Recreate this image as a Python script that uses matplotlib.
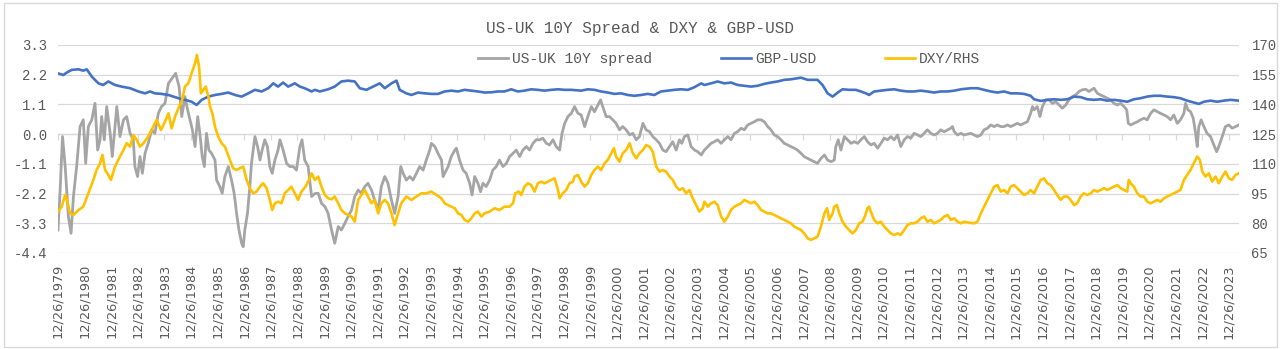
import matplotlib
matplotlib.use("Agg")
import matplotlib.pyplot as plt
from matplotlib.patches import Rectangle

# US-UK 10Y spread (left axis) as (year, value)
spread = [
    (1979.98, -3.55), (1980.06, -2.07), (1980.15, -0.09), (1980.25, -1.20), (1980.37, -3.05), (1980.47, -3.67),
    (1980.56, -2.31), (1980.68, -1.20), (1980.81, 0.28), (1980.93, 0.53),
    (1981.02, -1.08), (1981.12, 0.28), (1981.25, 0.53), (1981.37, 1.14), (1981.47, -0.59), (1981.56, -0.21),
    (1981.62, 0.65), (1981.72, -0.21), (1981.81, 1.02), (1981.94, 0.03),
    (1982.02, -0.83), (1982.19, 1.02), (1982.31, -0.09), (1982.44, 0.53), (1982.56, 0.65), (1982.69, 0.03),
    (1982.81, -0.21), (1982.87, -1.20), (1982.97, -1.57),
    (1983.06, -0.83), (1983.15, -1.45), (1983.25, -0.71), (1983.37, -0.34), (1983.50, 0.16), (1983.62, 0.03),
    (1983.75, 0.77), (1983.87, 1.02),
    (1984.00, 1.14), (1984.13, 1.88), (1984.31, 2.13), (1984.40, 2.25), (1984.53, 1.76), (1984.63, 0.65),
    (1984.75, 1.39), (1984.85, 0.90), (1984.94, 0.53),
    (1985.03, 0.16), (1985.13, -0.46), (1985.23, 0.65), (1985.31, 0.03), (1985.40, -0.83), (1985.48, -1.20),
    (1985.56, 0.03), (1985.65, -0.59), (1985.75, -0.71), (1985.88, -0.96), (1985.94, -1.70),
    (1986.06, -1.94), (1986.15, -2.19), (1986.25, -1.57), (1986.38, -1.20), (1986.50, -1.70), (1986.60, -2.19),
    (1986.69, -2.93), (1986.78, -3.55), (1986.88, -4.04), (1986.94, -4.17),
    (1987.00, -3.55), (1987.10, -2.93), (1987.19, -1.94), (1987.25, -1.08), (1987.38, -0.09), (1987.48, -0.46),
    (1987.57, -0.96), (1987.65, -0.59), (1987.75, -0.21), (1987.85, -0.46), (1987.94, -1.20),
    (1988.03, -1.45), (1988.13, -0.96), (1988.25, -0.59), (1988.32, -0.21), (1988.44, -0.59), (1988.57, -1.08),
    (1988.69, -1.20), (1988.82, -1.20), (1988.94, -1.33),
    (1989.07, -0.46), (1989.15, -0.21), (1989.25, -0.96), (1989.38, -1.20), (1989.51, -2.31), (1989.63, -2.20),
    (1989.76, -2.19), (1989.88, -2.56),
    (1990.01, -2.68), (1990.13, -2.93), (1990.26, -3.55), (1990.38, -4.04), (1990.51, -3.42), (1990.63, -3.55),
    (1990.76, -3.30), (1990.88, -3.05),
    (1991.01, -2.81), (1991.13, -2.31), (1991.26, -2.07), (1991.38, -2.19), (1991.51, -1.94), (1991.63, -1.82),
    (1991.76, -2.07), (1991.88, -2.44),
    (1992.01, -2.81), (1992.13, -1.94), (1992.26, -1.57), (1992.38, -1.82), (1992.51, -2.44), (1992.63, -2.93),
    (1992.76, -2.31), (1992.86, -1.20), (1992.95, -1.45),
    (1993.07, -1.70), (1993.20, -1.57), (1993.32, -1.70), (1993.45, -1.45), (1993.57, -1.20), (1993.70, -1.33),
    (1993.82, -0.96), (1993.95, -0.59),
    (1994.01, -0.34), (1994.14, -0.46), (1994.26, -0.71), (1994.39, -0.96), (1994.45, -1.57), (1994.51, -1.45),
    (1994.64, -1.20), (1994.76, -0.83), (1994.89, -0.59), (1994.95, -0.52),
    (1995.07, -0.96), (1995.20, -1.33), (1995.32, -1.45), (1995.45, -1.82), (1995.54, -2.25), (1995.64, -1.57),
    (1995.76, -1.82), (1995.86, -2.13), (1995.95, -1.82),
    (1996.07, -1.94), (1996.20, -1.70), (1996.32, -1.33), (1996.45, -1.20), (1996.57, -0.96), (1996.70, -1.20),
    (1996.83, -1.08), (1996.95, -0.83),
    (1997.08, -0.71), (1997.20, -0.59), (1997.33, -0.83), (1997.45, -0.59), (1997.58, -0.46), (1997.70, -0.59),
    (1997.83, -0.34), (1997.95, -0.21),
    (1998.08, -0.21), (1998.20, -0.15), (1998.33, -0.34), (1998.45, -0.40), (1998.58, -0.21), (1998.70, -0.46),
    (1998.83, -0.59), (1998.92, 0.03),
    (1999.02, 0.40), (1999.14, 0.65), (1999.27, 0.77), (1999.39, 1.02), (1999.52, 0.77), (1999.64, 0.71),
    (1999.77, 0.28), (1999.89, 0.65),
    (2000.02, 1.02), (2000.14, 0.83), (2000.27, 1.08), (2000.37, 1.27), (2000.45, 1.02), (2000.58, 0.65),
    (2000.70, 0.65), (2000.83, 0.53), (2000.95, 0.40),
    (2001.08, 0.16), (2001.20, 0.28), (2001.33, 0.16), (2001.46, -0.03), (2001.58, 0.03), (2001.71, -0.21),
    (2001.83, -0.09), (2001.96, 0.40),
    (2002.08, 0.16), (2002.21, 0.09), (2002.33, -0.09), (2002.46, -0.21), (2002.58, -0.34), (2002.71, -0.59),
    (2002.83, -0.65), (2002.96, -0.46),
    (2003.08, -0.28), (2003.21, -0.59), (2003.33, -0.21), (2003.42, -0.34), (2003.52, -0.09), (2003.65, -0.03),
    (2003.77, -0.46), (2003.90, -0.59),
    (2004.02, -0.65), (2004.15, -0.77), (2004.27, -0.59), (2004.40, -0.46), (2004.52, -0.34), (2004.65, -0.28),
    (2004.77, -0.21), (2004.90, -0.34),
    (2005.02, -0.21), (2005.15, -0.09), (2005.27, -0.21), (2005.40, 0.03), (2005.52, 0.09), (2005.65, 0.22),
    (2005.77, 0.16), (2005.90, 0.34),
    (2006.02, 0.40), (2006.15, 0.46), (2006.27, 0.53), (2006.40, 0.53), (2006.52, 0.46), (2006.65, 0.28),
    (2006.77, 0.16), (2006.90, -0.03),
    (2007.02, -0.09), (2007.15, -0.21), (2007.27, -0.34), (2007.40, -0.40), (2007.52, -0.46), (2007.65, -0.52),
    (2007.77, -0.59), (2007.90, -0.71),
    (2008.02, -0.83), (2008.15, -0.90), (2008.27, -0.96), (2008.40, -1.02), (2008.52, -1.08), (2008.65, -0.90),
    (2008.78, -0.77), (2008.90, -0.96),
    (2009.03, -1.02), (2009.15, -0.96), (2009.21, -0.46), (2009.30, -0.21), (2009.40, -0.59), (2009.53, -0.09),
    (2009.65, -0.21), (2009.78, -0.34), (2009.90, -0.28),
    (2010.03, -0.34), (2010.15, -0.21), (2010.28, -0.09), (2010.40, -0.28), (2010.53, -0.40), (2010.65, -0.34),
    (2010.78, -0.52), (2010.90, -0.34),
    (2011.03, -0.15), (2011.15, -0.21), (2011.28, -0.09), (2011.40, -0.21), (2011.53, -0.03), (2011.65, -0.46),
    (2011.78, -0.21), (2011.90, -0.09),
    (2012.03, -0.15), (2012.15, 0.03), (2012.28, -0.03), (2012.40, -0.09), (2012.53, 0.03), (2012.65, 0.16),
    (2012.78, 0.03), (2012.90, -0.03),
    (2013.03, 0.03), (2013.15, 0.16), (2013.28, 0.09), (2013.41, 0.16), (2013.53, 0.22), (2013.59, 0.28),
    (2013.66, 0.09), (2013.78, -0.03), (2013.91, 0.03),
    (2014.03, -0.03), (2014.28, 0.03), (2014.53, -0.09), (2014.66, -0.03), (2014.78, 0.16), (2014.91, 0.22),
    (2015.03, 0.34), (2015.16, 0.28), (2015.28, 0.34), (2015.41, 0.28), (2015.53, 0.28), (2015.66, 0.34),
    (2015.78, 0.28), (2015.91, 0.34),
    (2016.03, 0.40), (2016.16, 0.34), (2016.28, 0.40), (2016.41, 0.46), (2016.53, 0.77), (2016.60, 1.02),
    (2016.66, 0.90), (2016.78, 1.02), (2016.88, 0.65), (2016.97, 1.02),
    (2017.10, 1.27), (2017.22, 1.27), (2017.35, 1.14), (2017.47, 1.20), (2017.60, 1.08), (2017.72, 0.96),
    (2017.85, 1.08), (2017.97, 1.27),
    (2018.10, 1.39), (2018.22, 1.45), (2018.35, 1.58), (2018.47, 1.64), (2018.60, 1.66), (2018.72, 1.58),
    (2018.91, 1.70),
    (2019.04, 1.51), (2019.16, 1.45), (2019.29, 1.39), (2019.41, 1.33), (2019.54, 1.27), (2019.66, 1.14),
    (2019.79, 1.08), (2019.91, 1.14),
    (2020.04, 1.02), (2020.14, 0.90), (2020.20, 0.40), (2020.29, 0.34), (2020.41, 0.40), (2020.54, 0.46),
    (2020.66, 0.53), (2020.79, 0.59), (2020.91, 0.53),
    (2021.04, 0.77), (2021.16, 0.90), (2021.29, 0.83), (2021.41, 0.77), (2021.54, 0.71), (2021.66, 0.65),
    (2021.79, 0.53), (2021.91, 0.71),
    (2022.04, 0.40), (2022.16, 0.53), (2022.29, 0.77), (2022.35, 1.14), (2022.44, 0.90), (2022.54, 0.83),
    (2022.64, 0.59), (2022.73, 0.03), (2022.79, -0.46), (2022.85, 0.28), (2022.94, 0.53),
    (2023.04, 0.28), (2023.16, 0.03), (2023.29, -0.09), (2023.39, -0.34), (2023.52, -0.65), (2023.60, -0.46),
    (2023.73, -0.09), (2023.85, 0.28), (2023.98, 0.34),
    (2024.10, 0.22), (2024.23, 0.28), (2024.35, 0.34),
]

# GBP-USD (left axis)
gbp = [
    (1979.98, 2.25), (1980.18, 2.19), (1980.31, 2.28), (1980.50, 2.38), (1980.75, 2.40), (1980.93, 2.35),
    (1981.06, 2.40), (1981.25, 2.13), (1981.50, 1.88), (1981.68, 1.82), (1981.87, 1.95),
    (1982.12, 1.82), (1982.37, 1.76), (1982.69, 1.70), (1983.00, 1.58), (1983.25, 1.51), (1983.44, 1.58),
    (1983.62, 1.51), (1983.87, 1.49), (1984.13, 1.45), (1984.38, 1.37), (1984.63, 1.29),
    (1984.75, 1.27), (1985.00, 1.20), (1985.19, 1.08), (1985.38, 1.27), (1985.63, 1.39), (1985.88, 1.45),
    (1986.13, 1.49), (1986.38, 1.54), (1986.63, 1.45), (1986.88, 1.39),
    (1987.13, 1.51), (1987.38, 1.64), (1987.63, 1.58), (1987.88, 1.70), (1988.07, 1.88), (1988.25, 1.76),
    (1988.44, 1.91), (1988.63, 1.76), (1988.88, 1.88), (1989.07, 1.76), (1989.25, 1.70), (1989.51, 1.58),
    (1989.63, 1.64), (1989.82, 1.58), (1990.13, 1.66), (1990.38, 1.76), (1990.63, 1.95), (1990.88, 1.98),
    (1991.13, 1.95), (1991.32, 1.70), (1991.57, 1.64), (1991.82, 1.76),
    (1992.07, 1.88), (1992.26, 1.70), (1992.51, 1.88), (1992.70, 1.98), (1992.82, 1.64), (1993.07, 1.51),
    (1993.26, 1.45), (1993.51, 1.54), (1993.76, 1.51), (1994.01, 1.49), (1994.26, 1.49),
    (1994.51, 1.58), (1994.76, 1.61), (1995.01, 1.58), (1995.26, 1.64), (1995.51, 1.61), (1995.76, 1.58),
    (1996.01, 1.54), (1996.26, 1.55), (1996.51, 1.58), (1996.76, 1.58),
    (1997.01, 1.66), (1997.26, 1.58), (1997.51, 1.61), (1997.76, 1.66), (1998.01, 1.64), (1998.26, 1.61),
    (1998.51, 1.64), (1998.77, 1.66), (1999.02, 1.64), (1999.27, 1.64),
    (1999.64, 1.61), (1999.89, 1.66), (2000.14, 1.64), (2000.39, 1.58), (2000.64, 1.54), (2000.89, 1.49),
    (2001.14, 1.51), (2001.39, 1.45), (2001.64, 1.42), (2001.89, 1.45),
    (2002.14, 1.49), (2002.39, 1.45), (2002.64, 1.58), (2002.89, 1.61), (2003.14, 1.64), (2003.39, 1.66),
    (2003.65, 1.64), (2003.90, 1.74), (2004.15, 1.88),
    (2004.27, 1.82), (2004.52, 1.88), (2004.77, 1.95), (2005.02, 1.88), (2005.27, 1.91), (2005.52, 1.82),
    (2005.77, 1.79), (2006.02, 1.76), (2006.27, 1.79), (2006.52, 1.86), (2006.77, 1.91),
    (2007.02, 1.95), (2007.27, 2.01), (2007.52, 2.03), (2007.77, 2.07), (2007.90, 2.09), (2008.15, 2.01),
    (2008.52, 2.01), (2008.71, 1.82), (2008.90, 1.51), (2009.09, 1.39),
    (2009.28, 1.54), (2009.46, 1.66), (2009.71, 1.64), (2009.96, 1.64), (2010.15, 1.58), (2010.34, 1.51),
    (2010.46, 1.45), (2010.65, 1.58), (2010.90, 1.61),
    (2011.15, 1.64), (2011.40, 1.66), (2011.65, 1.61), (2011.90, 1.58), (2012.15, 1.58), (2012.40, 1.61),
    (2012.65, 1.58), (2012.90, 1.54), (2013.15, 1.58), (2013.41, 1.58), (2013.66, 1.61), (2013.91, 1.66),
    (2014.28, 1.70), (2014.53, 1.70), (2014.78, 1.64), (2015.03, 1.58), (2015.28, 1.54), (2015.53, 1.58),
    (2015.78, 1.51), (2016.03, 1.51), (2016.28, 1.49), (2016.53, 1.42), (2016.66, 1.29), (2016.91, 1.23),
    (2017.16, 1.27), (2017.41, 1.29), (2017.66, 1.27), (2017.91, 1.29), (2018.16, 1.39), (2018.41, 1.37),
    (2018.66, 1.29), (2018.91, 1.27),
    (2019.16, 1.29), (2019.41, 1.24), (2019.66, 1.27), (2019.91, 1.24), (2020.16, 1.20), (2020.41, 1.29),
    (2020.66, 1.33), (2020.91, 1.39),
    (2021.16, 1.42), (2021.41, 1.42), (2021.66, 1.39), (2021.91, 1.37), (2022.16, 1.33), (2022.41, 1.24),
    (2022.66, 1.17), (2022.85, 1.12),
    (2023.04, 1.20), (2023.29, 1.24), (2023.54, 1.20), (2023.79, 1.24), (2024.04, 1.27), (2024.35, 1.24),
]

# DXY (right axis)
dxy = [
    (1979.98, 85.9), (1980.12, 88.4), (1980.25, 94.3), (1980.35, 90.1), (1980.43, 85.0), (1980.56, 84.2),
    (1980.75, 86.7), (1980.93, 88.4),
    (1981.12, 95.1), (1981.31, 101.9), (1981.43, 106.9), (1981.56, 110.3), (1981.65, 114.5), (1981.75, 106.9),
    (1981.87, 104.4), (1981.97, 101.9),
    (1982.12, 108.6), (1982.31, 113.7), (1982.44, 117.0), (1982.56, 120.4), (1982.69, 118.7), (1982.81, 124.6),
    (1982.94, 122.1),
    (1983.06, 118.7), (1983.19, 120.4), (1983.37, 123.8), (1983.56, 128.8), (1983.69, 132.2), (1983.85, 127.1),
    (1984.00, 131.3), (1984.13, 135.5), (1984.25, 128.0), (1984.38, 133.9), (1984.53, 138.9), (1984.63, 141.4),
    (1984.75, 149.0), (1984.88, 150.7),
    (1985.00, 155.7), (1985.13, 160.8), (1985.20, 165.0), (1985.28, 159.1), (1985.35, 145.6), (1985.44, 147.3),
    (1985.53, 149.0), (1985.63, 144.0), (1985.69, 138.9), (1985.78, 135.5), (1985.88, 128.8),
    (1986.00, 123.8), (1986.13, 120.4), (1986.25, 118.7), (1986.35, 115.3), (1986.44, 112.0), (1986.56, 107.8),
    (1986.69, 106.9), (1986.81, 107.8), (1986.94, 108.6),
    (1987.07, 101.9), (1987.19, 97.7), (1987.32, 95.1), (1987.44, 96.0), (1987.57, 98.5), (1987.69, 100.2),
    (1987.82, 97.7), (1987.94, 91.8),
    (1988.03, 86.7), (1988.13, 90.1), (1988.25, 90.9), (1988.38, 90.1), (1988.50, 95.1), (1988.63, 96.8),
    (1988.75, 98.5), (1988.88, 95.1),
    (1989.00, 91.8), (1989.13, 96.0), (1989.28, 98.5), (1989.41, 101.9), (1989.51, 105.2), (1989.63, 101.9),
    (1989.76, 103.6), (1989.88, 98.5),
    (1990.01, 94.3), (1990.13, 92.6), (1990.26, 92.1), (1990.38, 93.5), (1990.51, 90.1), (1990.63, 86.7),
    (1990.76, 85.0), (1990.88, 84.2),
    (1991.01, 83.4), (1991.13, 80.8), (1991.26, 91.8), (1991.38, 94.3), (1991.51, 96.8), (1991.63, 93.5),
    (1991.76, 90.1), (1991.88, 91.8),
    (1992.01, 85.0), (1992.13, 90.1), (1992.26, 91.8), (1992.38, 90.1), (1992.51, 85.0), (1992.63, 79.1),
    (1992.76, 85.0), (1992.88, 90.1),
    (1993.07, 93.5), (1993.26, 91.8), (1993.45, 93.5), (1993.63, 95.1), (1993.82, 95.1), (1994.01, 96.0),
    (1994.20, 94.3), (1994.39, 92.6),
    (1994.51, 90.1), (1994.64, 89.2), (1994.76, 88.4), (1994.89, 87.6), (1995.01, 85.0), (1995.14, 84.2),
    (1995.26, 81.7), (1995.39, 80.8), (1995.51, 82.5), (1995.64, 85.0), (1995.76, 85.9), (1995.89, 83.4),
    (1996.01, 85.0), (1996.20, 85.9), (1996.39, 87.6), (1996.57, 86.7), (1996.76, 88.4), (1996.95, 88.4),
    (1997.08, 90.1), (1997.16, 95.1), (1997.29, 96.0), (1997.39, 94.3), (1997.51, 98.5), (1997.64, 100.2),
    (1997.76, 99.3), (1997.89, 96.0),
    (1998.01, 100.2), (1998.14, 101.0), (1998.26, 100.2), (1998.39, 101.0), (1998.51, 101.9), (1998.64, 102.7),
    (1998.77, 96.8), (1998.83, 92.6), (1998.95, 95.1),
    (1999.08, 96.8), (1999.20, 100.2), (1999.33, 101.0), (1999.39, 103.6), (1999.52, 104.4), (1999.64, 101.0),
    (1999.77, 98.5), (1999.89, 100.2),
    (2000.02, 104.4), (2000.14, 106.9), (2000.27, 108.6), (2000.39, 106.9), (2000.52, 110.3), (2000.64, 112.0),
    (2000.77, 115.3), (2000.87, 117.9), (2000.95, 113.7),
    (2001.08, 111.1), (2001.20, 115.3), (2001.33, 117.0), (2001.46, 120.4), (2001.58, 115.3), (2001.71, 112.8),
    (2001.83, 115.3), (2001.96, 117.0),
    (2002.08, 119.5), (2002.21, 118.7), (2002.33, 116.2), (2002.46, 108.6), (2002.58, 106.1), (2002.71, 106.9),
    (2002.83, 106.1), (2002.96, 103.6),
    (2003.08, 101.9), (2003.21, 98.5), (2003.33, 96.8), (2003.46, 97.7), (2003.58, 95.1), (2003.71, 96.8),
    (2003.83, 92.6), (2003.96, 89.2),
    (2004.08, 85.9), (2004.21, 87.6), (2004.27, 90.9), (2004.40, 88.4), (2004.52, 90.1), (2004.65, 90.9),
    (2004.77, 89.2), (2004.90, 83.4),
    (2005.02, 80.8), (2005.15, 83.4), (2005.27, 86.7), (2005.40, 88.4), (2005.52, 89.2), (2005.65, 90.1),
    (2005.77, 91.8), (2005.90, 90.9),
    (2006.02, 90.1), (2006.15, 90.9), (2006.27, 89.2), (2006.40, 86.7), (2006.52, 85.9), (2006.65, 85.0),
    (2006.77, 85.0), (2006.90, 84.2),
    (2007.02, 83.4), (2007.15, 82.5), (2007.27, 81.7), (2007.40, 80.8), (2007.52, 80.0), (2007.65, 78.3),
    (2007.77, 77.5), (2007.90, 76.6),
    (2008.02, 74.9), (2008.15, 72.4), (2008.27, 71.6), (2008.40, 72.4), (2008.52, 73.2), (2008.65, 78.3),
    (2008.78, 85.0), (2008.88, 87.6), (2008.96, 81.7),
    (2009.09, 85.0), (2009.15, 88.4), (2009.25, 89.2), (2009.34, 85.0), (2009.46, 80.8), (2009.59, 78.3),
    (2009.71, 76.6), (2009.84, 74.9), (2009.96, 76.6),
    (2010.09, 80.0), (2010.21, 80.8), (2010.30, 83.4), (2010.40, 87.6), (2010.46, 88.4), (2010.55, 85.0),
    (2010.65, 81.7), (2010.78, 80.0), (2010.90, 80.8),
    (2011.03, 78.3), (2011.15, 76.6), (2011.28, 74.9), (2011.40, 74.1), (2011.53, 74.9), (2011.65, 74.1),
    (2011.78, 76.6), (2011.90, 79.1),
    (2012.03, 80.0), (2012.15, 80.0), (2012.28, 80.8), (2012.40, 82.5), (2012.53, 83.4), (2012.65, 80.8),
    (2012.78, 81.7), (2012.90, 80.0),
    (2013.03, 80.8), (2013.15, 81.7), (2013.28, 83.4), (2013.41, 84.2), (2013.53, 81.7), (2013.66, 82.5),
    (2013.78, 80.8), (2013.91, 80.0),
    (2014.03, 80.8), (2014.22, 80.3), (2014.41, 80.0), (2014.53, 80.8), (2014.66, 85.0), (2014.78, 88.4),
    (2014.91, 91.8),
    (2015.03, 95.1), (2015.16, 98.5), (2015.28, 99.3), (2015.41, 96.0), (2015.53, 96.8), (2015.66, 95.1),
    (2015.78, 98.5), (2015.91, 99.3),
    (2016.03, 97.7), (2016.16, 96.0), (2016.28, 94.3), (2016.41, 95.1), (2016.53, 96.8), (2016.66, 95.1),
    (2016.78, 98.5), (2016.91, 101.9),
    (2017.03, 102.7), (2017.16, 100.2), (2017.28, 99.3), (2017.41, 96.8), (2017.53, 94.3), (2017.66, 91.8),
    (2017.78, 93.5), (2017.91, 93.5),
    (2018.03, 91.8), (2018.16, 89.2), (2018.28, 90.1), (2018.41, 93.5), (2018.53, 95.1), (2018.66, 94.3),
    (2018.79, 95.1), (2018.91, 96.8),
    (2019.04, 96.0), (2019.16, 96.8), (2019.29, 97.7), (2019.41, 96.8), (2019.54, 97.7), (2019.66, 98.5),
    (2019.79, 99.3), (2019.91, 97.7),
    (2020.04, 96.8), (2020.16, 96.0), (2020.22, 101.9), (2020.29, 100.2), (2020.41, 98.5), (2020.54, 95.1),
    (2020.66, 93.5), (2020.79, 93.5), (2020.91, 90.9),
    (2021.04, 90.1), (2021.16, 90.9), (2021.29, 91.8), (2021.41, 90.9), (2021.54, 92.6), (2021.66, 93.5),
    (2021.79, 94.3), (2021.91, 95.1),
    (2022.04, 96.0), (2022.16, 96.8), (2022.29, 101.9), (2022.41, 104.4), (2022.54, 106.9), (2022.66, 110.3),
    (2022.79, 113.7), (2022.89, 112.0), (2022.98, 106.1),
    (2023.10, 103.6), (2023.23, 105.2), (2023.35, 101.0), (2023.48, 103.6), (2023.60, 100.2), (2023.73, 103.6),
    (2023.85, 106.1), (2023.98, 102.7),
    (2024.10, 101.9), (2024.23, 104.4), (2024.35, 105.2),
]

years = list(range(1979, 2024))
tick_pos = [y + 0.98 for y in years]
tick_labels = [f"12/26/{y}" for y in years]

left_ticks = [-4.4, -3.3, -2.2, -1.1, 0.0, 1.1, 2.2, 3.3]
right_ticks = [65, 80, 95, 110, 125, 140, 155, 170]

txt = "#595959"
grid_c = "#D9D9D9"
mono = "Liberation Mono"

fig = plt.figure(figsize=(12.8, 3.49), dpi=100)
ax = fig.add_axes([58 / 1280, 96 / 349, 1181 / 1280, 208 / 349])
ax2 = ax.twinx()

x, y = zip(*spread)
l1, = ax.plot(x, y, color="#A5A5A5", lw=2.0, label="US-UK 10Y spread")
x, y = zip(*gbp)
l2, = ax.plot(x, y, color="#4472C4", lw=1.9, label="GBP-USD")
x, y = zip(*dxy)
l3, = ax2.plot(x, y, color="#FFC000", lw=1.9, label="DXY/RHS")

ax.set_xlim(1979.98, 2024.36)
ax.set_ylim(-4.4, 3.3)
ax2.set_ylim(65, 170)

ax.set_yticks(left_ticks, [f"{v:.1f}" for v in left_ticks], family=mono, size=10, color=txt)
ax2.set_yticks(right_ticks, [str(v) for v in right_ticks], family=mono, size=10, color=txt)
ax.set_xticks(tick_pos, tick_labels, rotation=90, family="DejaVu Sans", size=9.3, color=txt)

ax.tick_params(axis="y", length=0, pad=8)
ax2.tick_params(axis="y", length=0, pad=9)
ax.tick_params(axis="x", length=0, pad=8)

ax.yaxis.grid(True, color=grid_c, lw=0.9)
ax.set_axisbelow(True)
for a in (ax, ax2):
    for s in a.spines.values():
        s.set_visible(False)

# category axis crossing at zero, with small tick marks
zero_axis = ax.secondary_xaxis(4.4 / 7.7)
zero_axis.set_xticks(tick_pos, [""] * len(tick_pos))
zero_axis.tick_params(direction="in", length=4, color=grid_c, width=0.9)
for s in zero_axis.spines.values():
    s.set_color(grid_c)
    s.set_linewidth(0.9)

fig.text(0.5, 1 - 28 / 349, "US-UK 10Y Spread & DXY & GBP-USD", ha="center", va="center",
         family=mono, size=11.5, color=txt)

fig.legend([l1, l2, l3], [l1.get_label(), l2.get_label(), l3.get_label()], loc="center",
           bbox_to_anchor=(729 / 1280, 1 - 59 / 349), ncol=3, frameon=False,
           prop={"family": mono, "size": 10.5}, labelcolor=txt,
           handlelength=2.1, handletextpad=0.25, columnspacing=4.7, borderpad=0)

fig.add_artist(Rectangle((4 / 1280, 2 / 349), 1273 / 1280, 344 / 349, transform=fig.transFigure,
                         fill=False, ec=grid_c, lw=1))

fig.savefig("out.png", dpi=100)
